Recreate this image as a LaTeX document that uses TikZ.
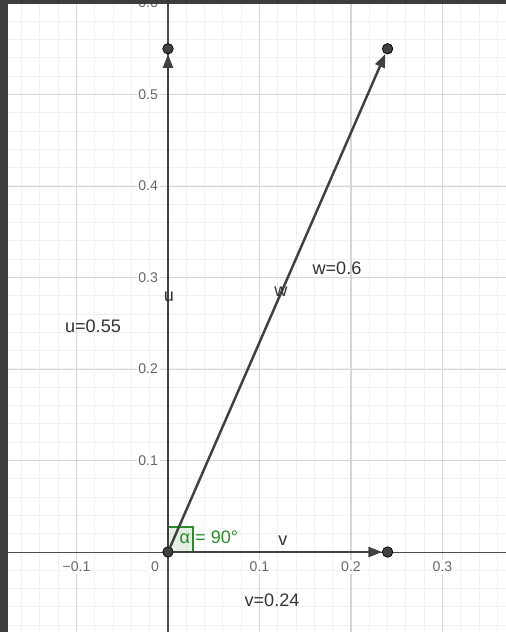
\documentclass[tikz,border=0pt]{standalone}
\usepackage{fontspec}
\setmainfont{Liberation Sans}
\usepackage{tikz}
\usetikzlibrary{arrows.meta, positioning}
\definecolor{frameDark}{gray}{0.24}
\definecolor{gridMinor}{gray}{0.94}
\definecolor{gridMajor}{gray}{0.84}
\definecolor{axisGray}{gray}{0.3}
\definecolor{vecGray}{gray}{0.25}
\definecolor{tickGray}{gray}{0.4}
\definecolor{angGreen}{RGB}{40,140,40}

\tikzset{
  vec/.style={line width=1.4pt, vecGray, -{Triangle[length=0.27cm, width=0.2cm]}},
  tipdot/.style={circle, fill=vecGray, draw=black, line width=0.4pt, minimum size=0.21cm, inner sep=0pt},
  ticklab/.style={font=\fontsize{8}{9}\selectfont, text=tickGray, fill=white, inner sep=1pt},
  veclab/.style={font=\fontsize{10.3}{12}\selectfont, text=black!80, inner sep=1pt},
}

\begin{document}
\begin{tikzpicture}[x=18.3cm, y=18.3cm]
    \useasboundingbox (-0.1836,-0.0874) rectangle (0.3694,0.6033);
    \begin{scope}
    \clip (-0.1836,-0.0874) rectangle (0.3694,0.6033);
    % grid
    \foreach \i in {-9,...,18}
        \draw[gridMinor, line width=0.6pt] (\i*0.02,-0.0874) -- (\i*0.02,0.6033);
    \foreach \j in {-4,...,30}
        \draw[gridMinor, line width=0.6pt] (-0.1836,\j*0.02) -- (0.3694,\j*0.02);
    \foreach \i in {-1,1,2,3}
        \draw[gridMajor, line width=0.6pt] (\i/10,-0.0874) -- (\i/10,0.6033);
    \foreach \j in {1,...,6}
        \draw[gridMajor, line width=0.6pt] (-0.1836,\j/10) -- (0.3694,\j/10);
    % axes
    \draw[axisGray, line width=0.6pt] (-0.1836,0) -- (0.3694,0);
    \draw[axisGray, line width=0.6pt] (0,-0.0874) -- (0,0.6033);
    % tick labels
    \node[ticklab] (xtm1) at (-0.1,-0.0164) {−0.1};
    \node[ticklab] (xt0) at (-0.0142,-0.0164) {0};
    \foreach \i in {1,2,3}
        \node[ticklab] (xt\i) at (\i/10,-0.0164) {0.\i};
    \foreach \j in {1,...,6}
        \node[ticklab, anchor=east] (yt\j) at (-0.0087,\j/10) {0.\j};
    \end{scope}

    % right angle
    \draw[angGreen, fill=angGreen, fill opacity=0.12, line width=0.8pt] (0,0) rectangle (0.0273,0.0273);

    % vectors
    \node[tipdot] (O) at (0,0) {};
    \node[tipdot] (U) at (0,0.55) {};
    \node[tipdot] (V) at (0.24,0) {};
    \node[tipdot] (W) at (0.24,0.55) {};
    \draw[vec] (O) -- (U);
    \draw[vec] (O) -- (V);
    \draw[vec] (O) -- (W);

    % labels
    \node[veclab] (uName) at (0.001,0.2787) {u};
    \node[veclab] (wName) at (0.1235,0.2840) {w};
    \node[veclab] (vName) at (0.1257,0.0120) {v};
    \node[veclab] (uLen) at (-0.0820,0.2470) {u=0.55};
    \node[veclab] (wLen) at (0.1847,0.3104) {w=0.6};
    \node[veclab] (vLen) at (0.1137,-0.0525) {v=0.24};
    \node[veclab, text=angGreen] (alphaLab) at (0.0448,0.0164) {α = 90°};

    % frame
    \fill[frameDark] (-0.1836,-0.0874) rectangle (-0.1749,0.6033);
    \fill[frameDark] (-0.1836,0.5989) rectangle (0.3694,0.6033);
\end{tikzpicture}
\end{document}
